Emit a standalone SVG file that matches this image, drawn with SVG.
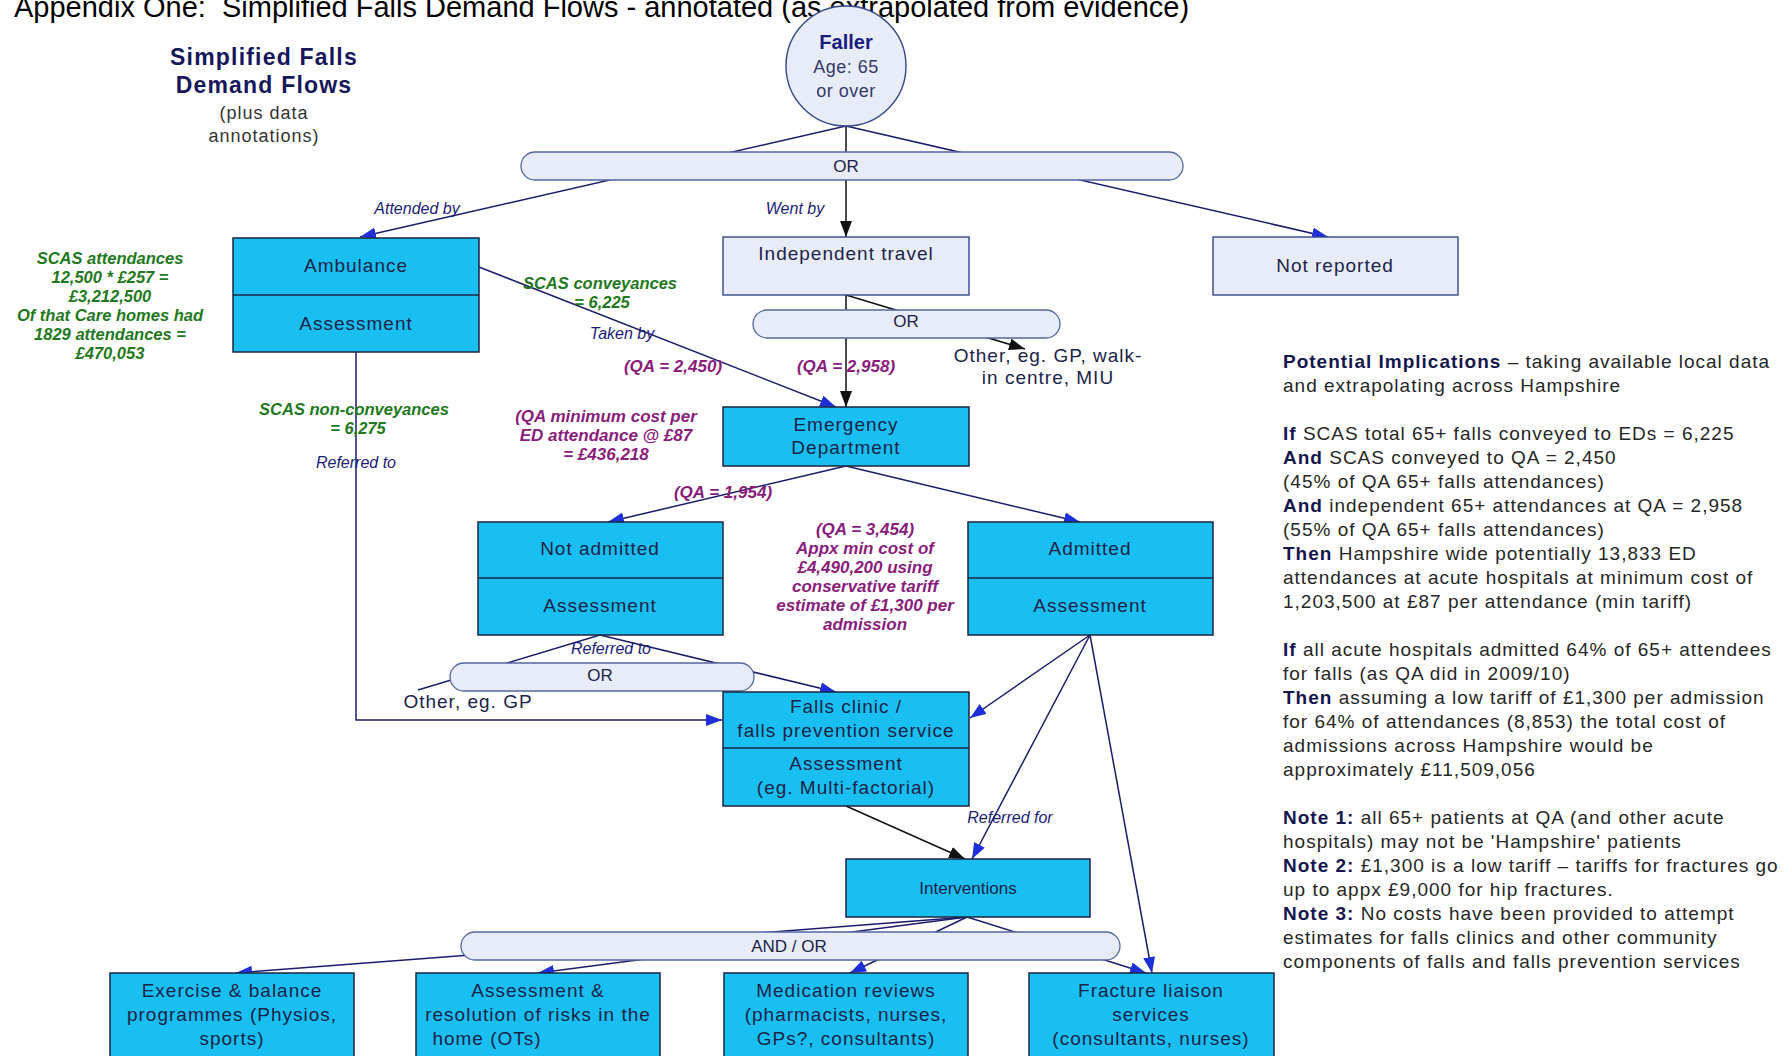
<svg xmlns="http://www.w3.org/2000/svg" width="1784" height="1056" viewBox="0 0 1784 1056">
<defs>
<style>
text{font-family:"Liberation Sans",Arial,sans-serif}
.box{fill:#19bff0;stroke:#1b2540;stroke-width:1.5}
.lav{fill:#e8ecf8;stroke:#34468c;stroke-width:1.4}
.bar{fill:#e8ecf8;stroke:#5566a0;stroke-width:1.3}
.lbl{font-size:19px;letter-spacing:1px;fill:#1c2348;text-anchor:middle}
.sm{font-size:17px;fill:#1c2348;text-anchor:middle}
.nav{font-size:16px;font-style:italic;fill:#1c1c78;text-anchor:middle}
.grn{font-size:16.5px;font-weight:bold;font-style:italic;fill:#22781c;text-anchor:middle}
.pur{font-size:17px;font-weight:bold;font-style:italic;fill:#8a1c7c;text-anchor:middle}
.con{fill:none;stroke:#1c1c6c;stroke-width:1.5}
.blk{fill:none;stroke:#111111;stroke-width:1.5}
.note{font-size:19px;letter-spacing:1px;fill:#262626}
.nb{font-weight:bold;fill:#16164e}
</style>
<marker id="ab" markerUnits="userSpaceOnUse" markerWidth="16" markerHeight="12" refX="16" refY="6" orient="auto"><path d="M0,0 L16,6 L0,12 z" fill="#1f2fd8"/></marker>
<marker id="ak" markerUnits="userSpaceOnUse" markerWidth="16" markerHeight="12" refX="16" refY="6" orient="auto"><path d="M0,0 L16,6 L0,12 z" fill="#111111"/></marker>
</defs>
<rect width="1784" height="1056" fill="#ffffff"/>
<text x="14" y="17" font-size="29" fill="#000">Appendix One:&#160; Simplified Falls Demand Flows - annotated (as extrapolated from evidence)</text>

<g id="heading">
<text x="264" y="65" font-size="23" font-weight="bold" letter-spacing="1.2" fill="#16165a" text-anchor="middle">Simplified Falls</text>
<text x="264" y="93" font-size="23" font-weight="bold" letter-spacing="1.2" fill="#16165a" text-anchor="middle">Demand Flows</text>
<text x="264" y="119" font-size="18" letter-spacing="1" fill="#333" text-anchor="middle">(plus data</text>
<text x="264" y="142" font-size="18" letter-spacing="1" fill="#333" text-anchor="middle">annotations)</text>
</g>

<g id="connectors">
<line class="con" x1="846" y1="126" x2="360" y2="237" marker-end="url(#ab)"/>
<line class="blk" x1="846" y1="126" x2="846" y2="237" marker-end="url(#ak)"/>
<line class="con" x1="846" y1="126" x2="1328" y2="237" marker-end="url(#ab)"/>
<line class="blk" x1="846" y1="295" x2="846" y2="407" marker-end="url(#ak)"/>
<line class="blk" x1="846" y1="295" x2="1025" y2="349" marker-end="url(#ak)"/>
<line class="con" x1="479" y1="267" x2="836" y2="407" marker-end="url(#ab)"/>
<polyline class="con" points="356,352 356,720 722,720" marker-end="url(#ab)"/>
<line class="con" x1="846" y1="466" x2="608" y2="522" marker-end="url(#ab)"/>
<line class="con" x1="846" y1="466" x2="1080" y2="522" marker-end="url(#ab)"/>
<line class="con" x1="600" y1="635" x2="836" y2="692" marker-end="url(#ab)"/>
<line class="con" x1="600" y1="635" x2="418" y2="690"/>
<line class="con" x1="1090" y1="635" x2="970" y2="718" marker-end="url(#ab)"/>
<line class="con" x1="1090" y1="635" x2="972" y2="859" marker-end="url(#ab)"/>
<line class="con" x1="1090" y1="635" x2="1152" y2="973" marker-end="url(#ab)"/>
<line class="blk" x1="846" y1="806" x2="965" y2="859" marker-end="url(#ak)"/>
<line class="con" x1="967" y1="917" x2="236" y2="973" marker-end="url(#ab)"/>
<line class="con" x1="967" y1="917" x2="538" y2="973" marker-end="url(#ab)"/>
<line class="con" x1="967" y1="917" x2="850" y2="973" marker-end="url(#ab)"/>
<line class="con" x1="967" y1="917" x2="1146" y2="973" marker-end="url(#ab)"/>
</g>

<g id="faller">
<circle cx="846" cy="66" r="60" class="lav"/>
<text x="846" y="49" font-size="20" font-weight="bold" fill="#1a1a80" text-anchor="middle">Faller</text>
<text x="846" y="73" font-size="18" letter-spacing="0.5" fill="#333a6a" text-anchor="middle">Age: 65</text>
<text x="846" y="97" font-size="18" letter-spacing="0.5" fill="#333a6a" text-anchor="middle">or over</text>
</g>
<g id="or1"><rect x="521" y="152" width="662" height="28" rx="14" class="bar"/><text x="846" y="172" class="sm">OR</text></g>
<g id="ambulance">
<rect x="233" y="238" width="246" height="114" class="box"/>
<line x1="233" y1="295" x2="479" y2="295" stroke="#1b2540" stroke-width="1.5"/>
<text x="356" y="272" class="lbl">Ambulance</text>
<text x="356" y="330" class="lbl">Assessment</text>
</g>
<g id="independent">
<rect x="723" y="237" width="246" height="58" class="lav"/>
<text x="846" y="260" class="lbl" letter-spacing="1.5">Independent  travel</text>
</g>
<g id="notreported">
<rect x="1213" y="237" width="245" height="58" class="lav"/>
<text x="1335" y="272" class="lbl">Not reported</text>
</g>
<g id="or2"><rect x="753" y="310" width="307" height="28" rx="14" class="bar"/><text x="906" y="327" class="sm">OR</text></g>
<g id="other1">
<text x="1048" y="362" class="lbl">Other, eg. GP, walk-</text>
<text x="1048" y="384" class="lbl">in centre, MIU</text>
</g>
<g id="ed">
<rect x="723" y="407" width="246" height="59" class="box"/>
<text x="846" y="431" class="lbl">Emergency</text>
<text x="846" y="454" class="lbl">Department</text>
</g>
<g id="notadmitted">
<rect x="478" y="522" width="245" height="113" class="box"/>
<line x1="478" y1="578" x2="723" y2="578" stroke="#1b2540" stroke-width="1.5"/>
<text x="600" y="555" class="lbl">Not admitted</text>
<text x="600" y="612" class="lbl">Assessment</text>
</g>
<g id="admitted">
<rect x="968" y="522" width="245" height="113" class="box"/>
<line x1="968" y1="578" x2="1213" y2="578" stroke="#1b2540" stroke-width="1.5"/>
<text x="1090" y="555" class="lbl">Admitted</text>
<text x="1090" y="612" class="lbl">Assessment</text>
</g>
<g id="or3"><rect x="450" y="663" width="304" height="28" rx="14" class="bar"/><text x="600" y="681" class="sm">OR</text></g>
<g id="other2"><text x="468" y="708" class="lbl">Other, eg. GP</text></g>
<g id="fallsclinic">
<rect x="723" y="692" width="246" height="114" class="box"/>
<line x1="723" y1="748" x2="969" y2="748" stroke="#1b2540" stroke-width="1.5"/>
<text x="846" y="713" class="lbl">Falls clinic /</text>
<text x="846" y="737" class="lbl">falls prevention service</text>
<text x="846" y="770" class="lbl">Assessment</text>
<text x="846" y="794" class="lbl">(eg. Multi-factorial)</text>
</g>
<g id="interventions">
<rect x="846" y="859" width="244" height="58" class="box"/>
<text x="968" y="894" class="sm">Interventions</text>
</g>
<g id="andor"><rect x="461" y="932" width="659" height="28" rx="14" class="bar"/><text x="789" y="952" class="sm">AND / OR</text></g>
<g id="exercise">
<rect x="110" y="973" width="244" height="100" class="box"/>
<text x="232" y="997" class="lbl">Exercise &amp; balance</text>
<text x="232" y="1021" class="lbl">programmes (Physios,</text>
<text x="232" y="1045" class="lbl">sports)</text>
</g>
<g id="homerisks">
<rect x="416" y="973" width="244" height="100" class="box"/>
<text x="538" y="997" class="lbl">Assessment &amp;</text>
<text x="538" y="1021" class="lbl">resolution of risks in the</text>
<text x="487" y="1045" class="lbl">home (OTs)</text>
</g>
<g id="medication">
<rect x="724" y="973" width="244" height="100" class="box"/>
<text x="846" y="997" class="lbl">Medication reviews</text>
<text x="846" y="1021" class="lbl">(pharmacists, nurses,</text>
<text x="846" y="1045" class="lbl">GPs?, consultants)</text>
</g>
<g id="fracture">
<rect x="1029" y="973" width="245" height="100" class="box"/>
<text x="1151" y="997" class="lbl">Fracture liaison</text>
<text x="1151" y="1021" class="lbl">services</text>
<text x="1151" y="1045" class="lbl">(consultants, nurses)</text>
</g>

<g id="labels">
<text x="417" y="214" class="nav">Attended by</text>
<text x="795" y="214" class="nav">Went by</text>
<text x="600" y="289" class="grn">SCAS conveyances</text>
<text x="602" y="308" class="grn">= 6,225</text>
<text x="622" y="339" class="nav">Taken by</text>
<text x="673" y="372" class="pur">(QA = 2,450)</text>
<text x="846" y="372" class="pur">(QA = 2,958)</text>
<text x="606" y="422" class="pur">(QA minimum cost per</text>
<text x="606" y="441" class="pur">ED attendance @ £87</text>
<text x="606" y="460" class="pur">= £436,218</text>
<text x="354" y="415" class="grn">SCAS non-conveyances</text>
<text x="358" y="434" class="grn">= 6,275</text>
<text x="356" y="468" class="nav">Referred to</text>
<text x="723" y="498" class="pur">(QA = 1,954)</text>
<text x="865" y="535" class="pur">(QA = 3,454)</text>
<text x="865" y="554" class="pur">Appx min cost of</text>
<text x="865" y="573" class="pur">£4,490,200 using</text>
<text x="865" y="592" class="pur">conservative tariff</text>
<text x="865" y="611" class="pur">estimate of £1,300 per</text>
<text x="865" y="630" class="pur">admission</text>
<text x="611" y="654" class="nav">Referred to</text>
<text x="1010" y="823" class="nav">Referred for</text>
<text x="110" y="264" class="grn">SCAS attendances</text>
<text x="110" y="283" class="grn">12,500 * £257 =</text>
<text x="110" y="302" class="grn">£3,212,500</text>
<text x="110" y="321" class="grn">Of that Care homes had</text>
<text x="110" y="340" class="grn">1829 attendances =</text>
<text x="110" y="359" class="grn">£470,053</text>
</g>

<g id="implications" class="note">
<text x="1283" y="368"><tspan class="nb">Potential Implications</tspan> – taking available local data</text>
<text x="1283" y="392">and extrapolating across Hampshire</text>
<text x="1283" y="440"><tspan class="nb">If</tspan> SCAS total 65+ falls conveyed to EDs = 6,225</text>
<text x="1283" y="464"><tspan class="nb">And</tspan> SCAS conveyed to QA = 2,450</text>
<text x="1283" y="488">(45% of QA 65+ falls attendances)</text>
<text x="1283" y="512"><tspan class="nb">And</tspan> independent 65+ attendances at QA = 2,958</text>
<text x="1283" y="536">(55% of QA 65+ falls attendances)</text>
<text x="1283" y="560"><tspan class="nb">Then</tspan> Hampshire wide potentially 13,833 ED</text>
<text x="1283" y="584">attendances at acute hospitals at minimum cost of</text>
<text x="1283" y="608">1,203,500 at £87 per attendance (min tariff)</text>
<text x="1283" y="656"><tspan class="nb">If</tspan> all acute hospitals admitted 64% of 65+ attendees</text>
<text x="1283" y="680">for falls (as QA did in 2009/10)</text>
<text x="1283" y="704"><tspan class="nb">Then</tspan> assuming a low tariff of £1,300 per admission</text>
<text x="1283" y="728">for 64% of attendances (8,853) the total cost of</text>
<text x="1283" y="752">admissions across Hampshire would be</text>
<text x="1283" y="776">approximately £11,509,056</text>
<text x="1283" y="824"><tspan class="nb">Note 1:</tspan> all 65+ patients at QA (and other acute</text>
<text x="1283" y="848">hospitals) may not be 'Hampshire' patients</text>
<text x="1283" y="872"><tspan class="nb">Note 2:</tspan> £1,300 is a low tariff – tariffs for fractures go</text>
<text x="1283" y="896">up to appx £9,000 for hip fractures.</text>
<text x="1283" y="920"><tspan class="nb">Note 3:</tspan> No costs have been provided to attempt</text>
<text x="1283" y="944">estimates for falls clinics and other community</text>
<text x="1283" y="968">components of falls and falls prevention services</text>
</g>
</svg>
